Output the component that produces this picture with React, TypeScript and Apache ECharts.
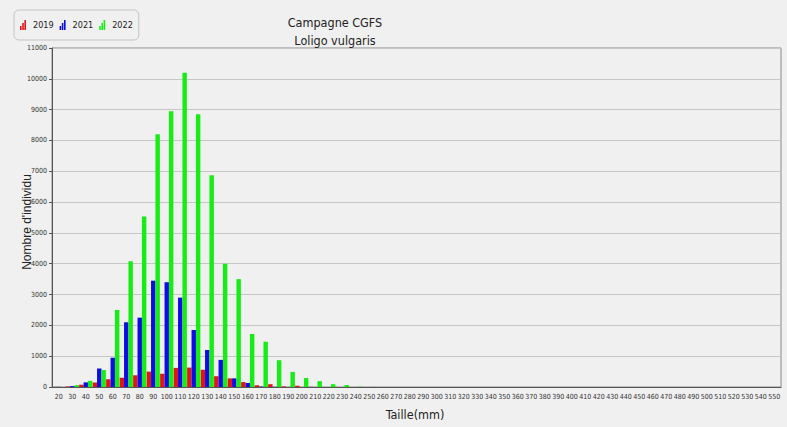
import React, { useEffect, useRef } from "react";
import * as echarts from "echarts";

// Length classes (mm), 20 to 550 by 10
const tailles: string[] = [];
for (let t = 20; t <= 550; t += 10) tailles.push(String(t));

const years = ["2019", "2021", "2022"];

// Number of individuals per length class
const n2019 = [5, 20, 70, 150, 250, 300, 380, 500, 430, 620, 630, 560, 350, 280, 160, 55, 90, 20, 40, 5];
const n2021 = [5, 30, 150, 600, 950, 2100, 2250, 3450, 3400, 2900, 1850, 1200, 880, 280, 130, 15, 5];
const n2022 = [0, 60, 200, 550, 2500, 4080, 5530, 8200, 8950, 10200, 8850, 6870, 4000, 3500, 1720, 1470, 870, 490, 290, 190, 90, 65, 10, 5];

const colors = ["#e31414", "#0c0ce6", "#14ee14"];

const pad = (arr: number[]) => tailles.map((_, i) => (i < arr.length ? arr[i] : 0));

// Small three-bar glyph used as the legend marker
const barIcon = "path://M0,6h1.6v4h-1.6z M2.2,3h1.6v7h-1.6z M4.4,0h1.6v10h-1.6z";

const narrow = "'DejaVu Sans Condensed', 'Liberation Sans Narrow', sans-serif";
const sans = "'Liberation Sans', Arial, sans-serif";

export default function App() {
  const ref = useRef<HTMLDivElement>(null);

  useEffect(() => {
    document.body.style.margin = "0";
    const chart = echarts.init(ref.current!, null, { renderer: "svg" });
    const series = [n2019, n2021, n2022].map((d, i) => ({
      name: years[i],
      type: "bar" as const,
      data: pad(d),
      barGap: "0%",
      barCategoryGap: "2%",
      itemStyle: { color: colors[i] },
    }));
    chart.setOption({
      animation: false,
      backgroundColor: "#f0f0f0",
      grid: { left: 52, right: 6, top: 48, bottom: 40, show: true, borderColor: "#8a8a8a", borderWidth: 1 },
      legend: {
        left: 14,
        top: 10,
        padding: [10, 6, 10, 6],
        itemGap: 6,
        itemWidth: 6,
        itemHeight: 10,
        borderColor: "#c4c4c4",
        borderWidth: 1,
        borderRadius: 5,
        textStyle: { fontFamily: narrow, fontSize: 9, color: "#222", padding: [0, 0, 0, 2] },
        data: years.map((y) => ({ name: y, icon: barIcon })),
      },
      graphic: [
        {
          type: "text",
          x: 335,
          y: 22,
          style: { text: "Campagne CGFS", textAlign: "center", textVerticalAlign: "middle", font: `12.5px ${narrow}`, fill: "#222" },
        },
        {
          type: "text",
          x: 335,
          y: 40,
          style: { text: "Loligo vulgaris", textAlign: "center", textVerticalAlign: "middle", font: `12.5px ${narrow}`, fill: "#222" },
        },
        {
          type: "text",
          x: 27,
          y: 222,
          rotation: Math.PI / 2,
          style: { text: "Nombre d'individu", textAlign: "center", textVerticalAlign: "middle", font: `12px ${sans}`, fill: "#222" },
        },
        {
          type: "text",
          x: 415,
          y: 414,
          style: { text: "Taille(mm)", textAlign: "center", textVerticalAlign: "middle", font: `12.5px ${narrow}`, fill: "#222" },
        },
      ],
      xAxis: {
        type: "category",
        data: tailles,
        axisLine: { lineStyle: { color: "#555", width: 1 } },
        axisTick: { alignWithLabel: false, inside: true, length: 3, lineStyle: { color: "#555" } },
        axisLabel: { interval: 0, fontFamily: narrow, fontSize: 7, color: "#333", margin: 6 },
      },
      yAxis: {
        type: "value",
        min: 0,
        max: 11000,
        interval: 1000,
        axisLine: { show: true, lineStyle: { color: "#555" } },
        axisTick: { show: true, length: 3, lineStyle: { color: "#555" } },
        axisLabel: { fontFamily: narrow, fontSize: 7, color: "#333", margin: 5, formatter: (v: number) => String(v) },
        splitLine: { lineStyle: { color: "#c6c6c6", width: 1 } },
      },
      series,
    });
    return () => chart.dispose();
  }, []);

  return <div ref={ref} style={{ width: 787, height: 427 }} />;
}
